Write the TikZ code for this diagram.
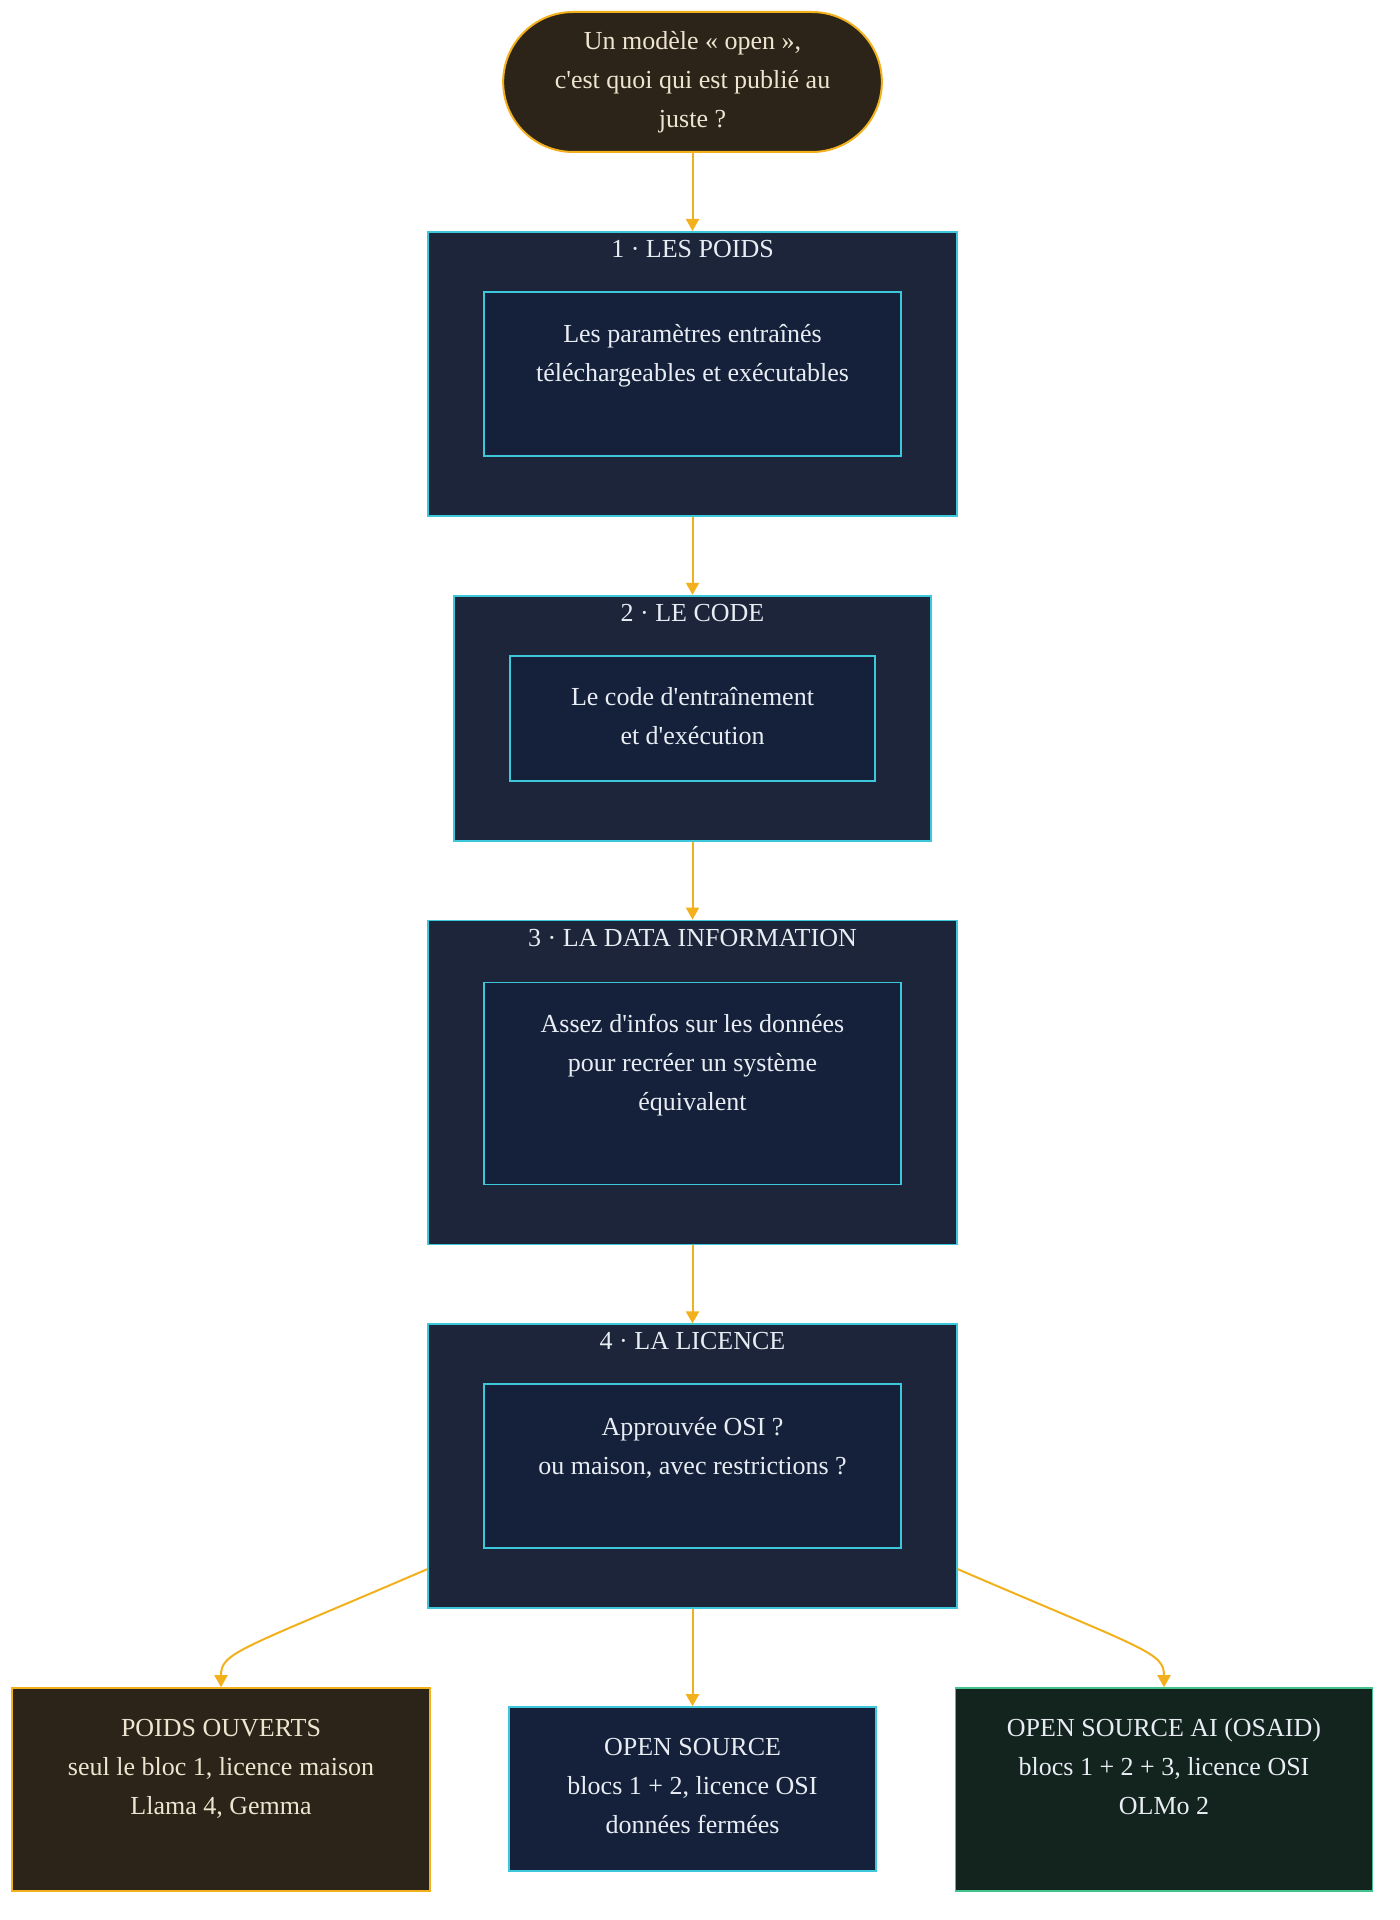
\documentclass[tikz,border=0pt]{standalone}
\usepackage{fontspec}
\setmainfont{Liberation Serif}[Ligatures=TeXOff]
\usepackage{tikz}
\usetikzlibrary{arrows.meta,positioning,shapes.misc}
\definecolor{amber}{HTML}{F2B11C}
\definecolor{cyanline}{HTML}{3CC8DA}
\definecolor{layerfill}{HTML}{1C2539}
\definecolor{innerfill}{HTML}{15213A}
\definecolor{brownfill}{HTML}{2C2419}
\definecolor{greenfill}{HTML}{13231E}
\definecolor{greenline}{HTML}{42C28C}
\definecolor{creamtext}{HTML}{EEE4D0}
\definecolor{paletext}{HTML}{E8EDF4}

\begin{document}
\begin{tikzpicture}[>={Triangle[width=6.5pt,length=6pt]},node distance=39pt,font=\fontsize{13}{19.5}\selectfont]
\tikzstyle{flow}=[->,amber,line width=1pt]
\tikzstyle{question}=[rounded rectangle,draw=amber,line width=1pt,fill=brownfill,text=creamtext,align=center,minimum width=196pt,minimum height=70pt]
\tikzstyle{layer}=[draw=cyanline,line width=0.9pt,fill=layerfill,minimum width=264.5pt]
\tikzstyle{title}=[inner sep=0pt,text height=9pt,text depth=2pt,text=paletext]
% text height = first baseline + the lines below it
\tikzstyle{inbox}=[draw=cyanline,line width=0.9pt,fill=innerfill,text=paletext,align=center,inner sep=0pt,minimum width=208.5pt]
\tikzstyle{verdict}=[draw,line width=0.9pt,align=center,inner sep=0pt,text height=63pt]
\useasboundingbox (0,0) rectangle (699.5pt,-960pt);

\node[question] (q) at (346.25pt,-41pt) {Un modèle « open »,\\c'est quoi qui est publié au\\juste ?};

% the four blocks of an open release
\node[layer,minimum height=142pt,below=of q] (p1) {};
\node[title,below=4pt of p1.north] (t1) {1 · LES POIDS};
\node[inbox,text height=45pt,text depth=37pt,below=30pt of p1.north] (w1) {Les paramètres entraînés\\téléchargeables et exécutables};

\node[layer,minimum width=238.5pt,minimum height=122.5pt,below=of p1] (p2) {};
\node[title,below=4pt of p2.north] (t2) {2 · LE CODE};
\node[inbox,minimum width=182.5pt,text height=44.5pt,text depth=18pt,below=30pt of p2.north] (w2) {Le code d'entraînement\\et d'exécution};

\node[layer,minimum height=162pt,below=of p2] (p3) {};
\node[title,below=4pt of p3.north] (t3) {3 · LA DATA INFORMATION};
\node[inbox,text height=64pt,text depth=37pt,below=31pt of p3.north] (w3) {Assez d'infos sur les données\\pour recréer un système\\équivalent};

\node[layer,minimum height=142pt,below=of p3] (p4) {};
\node[title,below=4pt of p4.north] (t4) {4 · LA LICENCE};
\node[inbox,text height=45pt,text depth=37pt,below=30pt of p4.north] (w4) {Approuvée OSI ?\\ou maison, avec restrictions ?};

% what each combination is called
\node[verdict,draw=amber,fill=brownfill,text=creamtext,minimum width=209pt,text depth=38.5pt,below=39pt of p4,xshift=-235.75pt] (pw) {POIDS OUVERTS\\seul le bloc 1, licence maison\\Llama 4, Gemma};
\node[verdict,draw=cyanline,fill=innerfill,text=paletext,minimum width=183.5pt,text depth=19pt,below=48.5pt of p4] (pm) {OPEN SOURCE\\blocs 1 + 2, licence OSI\\données fermées};
\node[verdict,draw=greenline,fill=greenfill,text=paletext,minimum width=208.5pt,text depth=38.5pt,below=39pt of p4,xshift=235.75pt] (pr) {OPEN SOURCE AI (OSAID)\\blocs 1 + 2 + 3, licence OSI\\OLMo 2};

\foreach \a/\b in {q/p1,p1/p2,p2/p3,p3/p4,p4/pm}
    \draw[flow] (\a.south) -- (\b.north);
\draw[flow] ([yshift=20pt]p4.south west) .. controls +(-94pt,-40.5pt) and +(0,17.5pt) .. (pw.north);
\draw[flow] ([yshift=20pt]p4.south east) .. controls +(94pt,-40.5pt) and +(0,17.5pt) .. (pr.north);
\end{tikzpicture}
\end{document}
